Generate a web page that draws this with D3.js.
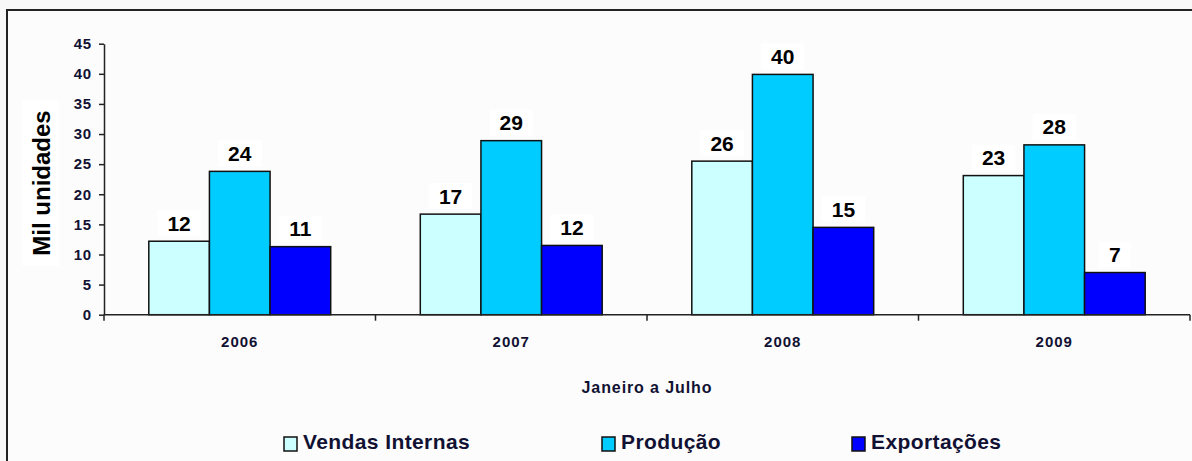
<!DOCTYPE html>
<html>
<head>
<meta charset="utf-8">
<script src="https://cdn.jsdelivr.net/npm/d3@7.9.0/dist/d3.min.js"></script>
<style>
  html, body { margin: 0; padding: 0; background: #f8f8f8; }
  svg { display: block; }
  text { font-family: Arial, "Liberation Sans", sans-serif; font-weight: bold; }
</style>
</head>
<body>
<svg id="chart" width="1192" height="461"></svg>
<script>
const anos = ["2006", "2007", "2008", "2009"];
const series = ["Vendas Internas", "Produção", "Exportações"];
const vendasInternas = [12.2, 16.7, 25.5, 23.1];
const producao = [23.8, 28.9, 39.9, 28.2];
const exportacoes = [11.3, 11.5, 14.5, 7.0];
const yTicks = [0, 5, 10, 15, 20, 25, 30, 35, 40, 45];
const cores = ["#ccffff", "#00ccff", "#0000ff"];

const valores = [vendasInternas, producao, exportacoes];
const data = anos.map((ano, i) => ({
  ano,
  itens: series.map((s, j) => ({ serie: s, valor: valores[j][i], cor: cores[j] }))
}));

const svg = d3.select("#chart");

// chart area + border (runs off the right/bottom edge like the source)
svg.append("rect")
  .attr("x", 7).attr("y", 10)
  .attr("width", 1300).attr("height", 600)
  .attr("fill", "#fcfcfc")
  .attr("stroke", "#222")
  .attr("stroke-width", 2);

const x0 = d3.scaleBand().domain(anos).range([104, 1190]);
const x1 = d3.scaleBand().domain(series).range([0, x0.bandwidth() * 0.67]);
const y = d3.scaleLinear().domain([0, 45]).range([314.7, 43.7]);

// y axis title with white box behind
const yTitle = svg.append("g").attr("transform", "translate(50,183) rotate(-90)");
const yTitleText = yTitle.append("text")
  .attr("text-anchor", "middle")
  .attr("font-size", 24)
  .attr("fill", "#000")
  .text("Mil unidades");
const tb = yTitleText.node().getBBox();
yTitle.insert("rect", "text")
  .attr("x", tb.x - 10).attr("y", tb.y - 6)
  .attr("width", tb.width + 20).attr("height", tb.height + 10)
  .attr("fill", "#fff");

// bars
const grupos = svg.append("g")
  .selectAll("g")
  .data(data)
  .join("g")
  .attr("transform", d => `translate(${x0(d.ano) + (x0.bandwidth() - x1.range()[1]) / 2},0)`);

grupos.selectAll("rect")
  .data(d => d.itens)
  .join("rect")
  .attr("x", d => x1(d.serie))
  .attr("y", d => y(d.valor))
  .attr("width", x1.bandwidth())
  .attr("height", d => y(0) - y(d.valor))
  .attr("fill", d => d.cor)
  .attr("stroke", "#111")
  .attr("stroke-width", 1.5);

// data labels with white boxes
const rotulos = grupos.selectAll("g.rotulo")
  .data(d => d.itens)
  .join("g")
  .attr("class", "rotulo")
  .attr("transform", d => `translate(${x1(d.serie) + x1.bandwidth() / 2},${y(d.valor) - 10.5})`);

rotulos.append("text")
  .attr("text-anchor", "middle")
  .attr("font-size", 21)
  .attr("fill", "#000")
  .text(d => d3.format(".0f")(d.valor));

rotulos.each(function () {
  const g = d3.select(this);
  const b = g.select("text").node().getBBox();
  g.insert("rect", "text")
    .attr("x", b.x - 10).attr("y", -20.5)
    .attr("width", b.width + 20).attr("height", 26)
    .attr("fill", "#fff");
});

// y axis
const yAxis = svg.append("g")
  .attr("transform", "translate(104,0)")
  .call(d3.axisLeft(y).tickValues(yTicks).tickSize(5).tickPadding(7).tickSizeOuter(0));
yAxis.select(".domain").attr("stroke", "#222").attr("stroke-width", 1.5);
yAxis.selectAll(".tick line").attr("stroke", "#222").attr("stroke-width", 1.5);
yAxis.selectAll(".tick text")
  .attr("font-size", 15)
  .attr("font-family", "Arial, 'Liberation Sans', sans-serif")
  .attr("font-weight", "bold")
  .attr("letter-spacing", 0.8)
  .attr("fill", "#111133");

// x axis: line, boundary ticks and centred year labels
const xAxis = svg.append("g").attr("transform", `translate(0,${y(0)})`);
xAxis.append("line")
  .attr("x1", x0.range()[0]).attr("x2", x0.range()[1])
  .attr("stroke", "#222").attr("stroke-width", 1.5);
xAxis.selectAll("line.tk")
  .data(anos.map(a => x0(a)).concat([x0.range()[1]]))
  .join("line")
  .attr("class", "tk")
  .attr("x1", d => d).attr("x2", d => d)
  .attr("y1", 0).attr("y2", 6)
  .attr("stroke", "#222").attr("stroke-width", 1.5);
xAxis.selectAll("text")
  .data(anos)
  .join("text")
  .attr("x", d => x0(d) + x0.bandwidth() / 2)
  .attr("y", 32)
  .attr("text-anchor", "middle")
  .attr("font-size", 15)
  .attr("letter-spacing", 1)
  .attr("fill", "#111133")
  .text(d => d);

// x axis title
svg.append("text")
  .attr("x", (x0.range()[0] + x0.range()[1]) / 2)
  .attr("y", 393)
  .attr("text-anchor", "middle")
  .attr("font-size", 16)
  .attr("letter-spacing", 0.9)
  .attr("fill", "#111133")
  .text("Janeiro a Julho");

// legend
const legendaX = [284, 602, 852];
const legenda = svg.append("g")
  .selectAll("g")
  .data(series)
  .join("g")
  .attr("transform", (d, i) => `translate(${legendaX[i]},437)`);
legenda.append("rect")
  .attr("width", 13).attr("height", 14)
  .attr("fill", (d, i) => cores[i])
  .attr("stroke", "#111")
  .attr("stroke-width", 1.5);
legenda.append("text")
  .attr("x", 19)
  .attr("y", 12)
  .attr("font-size", 21)
  .attr("letter-spacing", 0.4)
  .attr("fill", "#111133")
  .text(d => d);
</script>
</body>
</html>
